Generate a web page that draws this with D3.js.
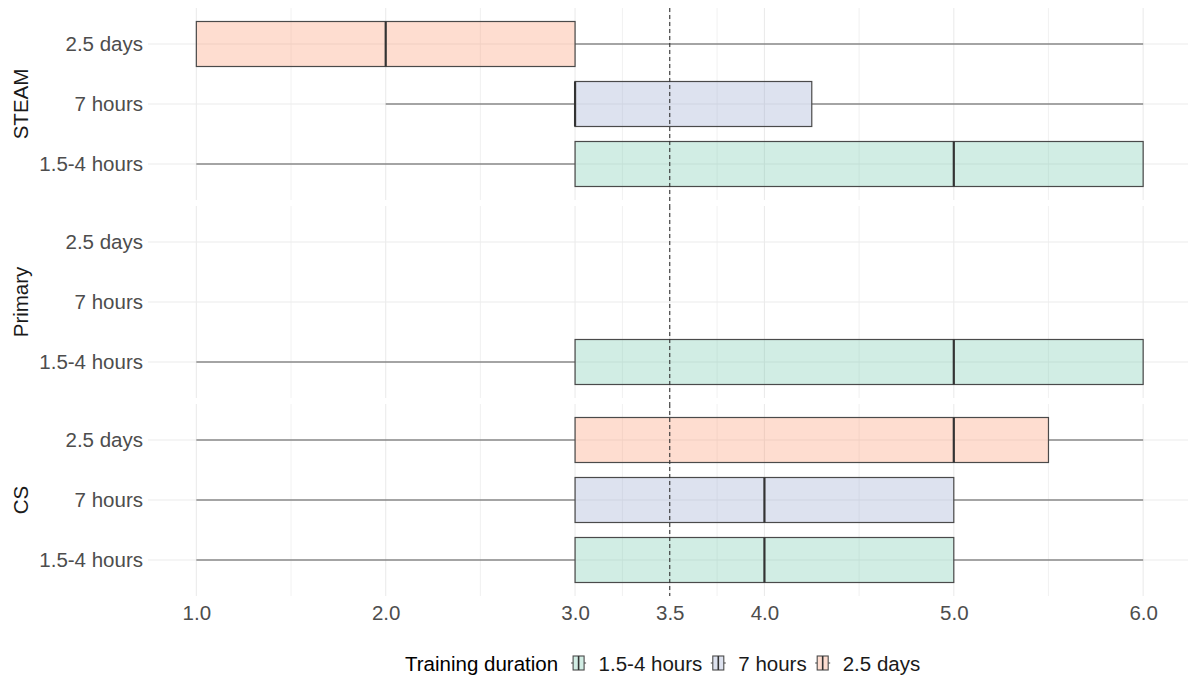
<!DOCTYPE html>
<html>
<head>
<meta charset="utf-8">
<script src="https://cdn.jsdelivr.net/npm/d3@7"></script>
<style>
  body { margin: 0; background: #fff; }
  svg { display: block; font-family: "Liberation Sans", Arial, sans-serif; }
  .axis path, .axis line { display: none; }
</style>
</head>
<body>
<svg id="chart"></svg>
<script>
// facets top to bottom, rows inside a facet top to bottom
const facets = ["STEAM", "Primary", "CS"];
const durations = ["1.5-4 hours", "7 hours", "2.5 days"];
const rowOrder = ["2.5 days", "7 hours", "1.5-4 hours"];
const xTicks = [1, 2, 3, 3.5, 4, 5, 6];
const minorTicks = [1.5, 2.5, 3.25, 3.75, 4.5, 5.5];
const refLine = 3.5;
const colours = ["#66C2A5", "#8DA0CB", "#FC8D62"];

// five number summaries
const steamBoxes = [
    { duration: "1.5-4 hours", min: 1, q1: 3, median: 5, q3: 6, max: 6 },
    { duration: "7 hours", min: 2, q1: 3, median: 3, q3: 4.25, max: 6 },
    { duration: "2.5 days", min: 1, q1: 1, median: 2, q3: 3, max: 6 }
];
const primaryBoxes = [
    { duration: "1.5-4 hours", min: 1, q1: 3, median: 5, q3: 6, max: 6 }
];
const csBoxes = [
    { duration: "1.5-4 hours", min: 1, q1: 3, median: 4, q3: 5, max: 6 },
    { duration: "7 hours", min: 1, q1: 3, median: 4, q3: 5, max: 6 },
    { duration: "2.5 days", min: 1, q1: 3, median: 5, q3: 5.5, max: 6 }
];
const boxesByFacet = [steamBoxes, primaryBoxes, csBoxes];

function init() {
    const width = 1188, height = 678;
    const panelLeft = 148, panelRight = 1188;
    const panelTop = 8, panelH = 192, panelGap = 6;

    const svg = d3.select("#chart").attr("width", width).attr("height", height);

    const colour = d3.scaleOrdinal().domain(durations).range(colours);

    //x scale with ggplot's 5% expansion
    const scaleX = d3.scaleLinear()
        .domain([0.75, 6.25])
        .range([149, 1190.5]);

    facets.forEach((facet, i) => {
        const top = panelTop + i * (panelH + panelGap);
        const g = svg.append("g");

        const scaleY = d3.scalePoint()
            .domain(rowOrder)
            .range([top, top + panelH])
            .padding(0.6);
        const boxH = scaleY.step() * 0.75;

        //grid
        g.selectAll(".minor").data(minorTicks).enter()
            .append("line")
            .attr("x1", d => scaleX(d)).attr("x2", d => scaleX(d))
            .attr("y1", top).attr("y2", top + panelH)
            .attr("stroke", "#efefef").attr("stroke-width", 0.9);
        g.selectAll(".major").data(xTicks).enter()
            .append("line")
            .attr("x1", d => scaleX(d)).attr("x2", d => scaleX(d))
            .attr("y1", top).attr("y2", top + panelH)
            .attr("stroke", "#ebebeb").attr("stroke-width", 1.1);
        g.selectAll(".hgrid").data(rowOrder).enter()
            .append("line")
            .attr("x1", panelLeft).attr("x2", panelRight)
            .attr("y1", d => scaleY(d)).attr("y2", d => scaleY(d))
            .attr("stroke", "#ebebeb").attr("stroke-width", 1.1);

        const data = boxesByFacet[i];

        //whiskers
        g.selectAll(".wlo").data(data).enter()
            .append("line")
            .attr("x1", d => scaleX(d.min)).attr("x2", d => scaleX(d.q1))
            .attr("y1", d => scaleY(d.duration)).attr("y2", d => scaleY(d.duration))
            .attr("stroke", "#555").attr("stroke-width", 1.2);
        g.selectAll(".whi").data(data).enter()
            .append("line")
            .attr("x1", d => scaleX(d.q3)).attr("x2", d => scaleX(d.max))
            .attr("y1", d => scaleY(d.duration)).attr("y2", d => scaleY(d.duration))
            .attr("stroke", "#555").attr("stroke-width", 1.2);

        //boxes
        g.selectAll(".box").data(data).enter()
            .append("rect")
            .attr("x", d => scaleX(d.q1))
            .attr("width", d => scaleX(d.q3) - scaleX(d.q1))
            .attr("y", d => scaleY(d.duration) - boxH / 2)
            .attr("height", boxH)
            .attr("fill", d => colour(d.duration))
            .attr("fill-opacity", 0.3)
            .attr("stroke", "#4a4a4a")
            .attr("stroke-width", 1.2);

        //medians
        g.selectAll(".med").data(data).enter()
            .append("line")
            .attr("x1", d => scaleX(d.median)).attr("x2", d => scaleX(d.median))
            .attr("y1", d => scaleY(d.duration) - boxH / 2)
            .attr("y2", d => scaleY(d.duration) + boxH / 2)
            .attr("stroke", "#333").attr("stroke-width", 2.2);

        //dashed reference line
        g.append("line")
            .attr("x1", scaleX(refLine)).attr("x2", scaleX(refLine))
            .attr("y1", top).attr("y2", top + panelH + (i < 2 ? panelGap : 0))
            .attr("stroke", "#333").attr("stroke-width", 1.1)
            .attr("stroke-dasharray", "4,3");

        //y axis
        const yAxis = d3.axisLeft(scaleY).tickSize(0).tickPadding(5);
        g.append("g")
            .attr("class", "axis")
            .attr("transform", `translate(${panelLeft}, 0)`)
            .call(yAxis)
            .selectAll("text")
            .attr("fill", "#4d4d4d")
            .style("font-size", "20.5px")
            .style("font-family", "'Liberation Sans', Arial, sans-serif");

        //strip label
        g.append("text")
            .attr("transform", `translate(20, ${top + panelH / 2}) rotate(-90)`)
            .attr("text-anchor", "middle")
            .attr("dominant-baseline", "central")
            .attr("fill", "#1a1a1a")
            .style("font-size", "20.5px")
            .text(facet);
    });

    //x axis
    const panelBottom = panelTop + 3 * panelH + 2 * panelGap;
    const xAxis = d3.axisBottom(scaleX).tickValues(xTicks).tickFormat(d3.format(".1f")).tickSize(0).tickPadding(9);
    svg.append("g")
        .attr("class", "axis")
        .attr("transform", `translate(0, ${panelBottom})`)
        .call(xAxis)
        .selectAll("text")
        .attr("fill", "#4d4d4d")
        .style("font-size", "20.5px")
        .style("font-family", "'Liberation Sans', Arial, sans-serif");

    //legend
    const legY = 663;
    const leg = svg.append("g");
    const title = leg.append("text")
        .attr("x", 405).attr("y", legY)
        .attr("dominant-baseline", "central")
        .attr("fill", "#000")
        .style("font-size", "20.5px")
        .text("Training duration");
    let cursor = 405 + title.node().getComputedTextLength() + 20.5;
    durations.forEach(d => {
        const kx = cursor;
        leg.append("line")
            .attr("x1", kx - 7.5).attr("x2", kx + 7.5)
            .attr("y1", legY).attr("y2", legY)
            .attr("stroke", "#555").attr("stroke-width", 1.1);
        leg.append("rect")
            .attr("x", kx - 5.5).attr("y", legY - 7)
            .attr("width", 11).attr("height", 14)
            .attr("fill", "#fff");
        leg.append("rect")
            .attr("x", kx - 5.5).attr("y", legY - 7)
            .attr("width", 11).attr("height", 14)
            .attr("fill", colour(d)).attr("fill-opacity", 0.3)
            .attr("stroke", "#4a4a4a").attr("stroke-width", 1.1);
        leg.append("line")
            .attr("x1", kx).attr("x2", kx)
            .attr("y1", legY - 7).attr("y2", legY + 7)
            .attr("stroke", "#333").attr("stroke-width", 1.6);
        const lab = leg.append("text")
            .attr("x", kx + 20).attr("y", legY)
            .attr("dominant-baseline", "central")
            .attr("fill", "#1a1a1a")
            .style("font-size", "20.5px")
            .text(d);
        cursor = kx + 20 + lab.node().getComputedTextLength() + 16;
    });
}

window.onload = init;
</script>
</body>
</html>
